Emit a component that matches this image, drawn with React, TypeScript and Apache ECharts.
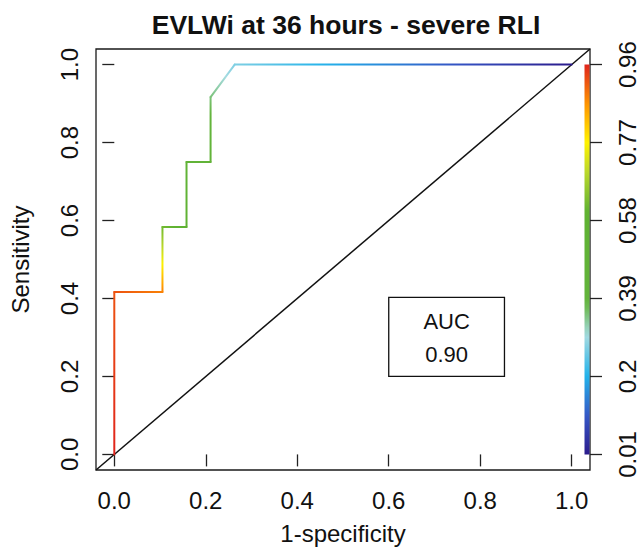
import React, { useEffect, useRef } from 'react';
import * as echarts from 'echarts';

// ---- data ----
const fpr = [0, 0, 0.1053, 0.1053, 0.1579, 0.1579, 0.2105, 0.2105, 0.2632, 1];
const tpr = [0, 0.4167, 0.4167, 0.5833, 0.5833, 0.75, 0.75, 0.9167, 1, 1];
const cutoff = [0.96, 0.92, 0.88, 0.62, 0.58, 0.5, 0.46, 0.35, 0.27, 0.01];
const xTicks = [0, 0.2, 0.4, 0.6, 0.8, 1.0];
const yTicks = [0, 0.2, 0.4, 0.6, 0.8, 1.0];
const cutoffTickLabels = ['0.01', '0.2', '0.39', '0.58', '0.77', '0.96'];
const aucLabel = 'AUC';
const aucValue = '0.90';
const chartTitle = 'EVLWi at 36 hours - severe RLI';
const xName = '1-specificity';
const yName = 'Sensitivity';

// ---- layout / style ----
const AX_MIN = -0.04;
const AX_MAX = 1.04;
const CUT_MIN = 0.01;
const CUT_MAX = 0.96;
const FONT = '"Liberation Sans", Arial, Helvetica, sans-serif';
const AUC_BOX = { x0: 0.6, y0: 0.403, x1: 0.853, y1: 0.2 };

const PALETTE: [number, string][] = [
  [0.01, '#2b1b8c'],
  [0.1, '#3554c4'],
  [0.2, '#22b2ea'],
  [0.3, '#a6dbe0'],
  [0.38, '#63b43c'],
  [0.6, '#5fb232'],
  [0.7, '#bcd82a'],
  [0.77, '#fff200'],
  [0.86, '#ff9800'],
  [0.96, '#e0241c'],
];

function hexToRgb(h: string) {
  const n = parseInt(h.slice(1), 16);
  return [(n >> 16) & 255, (n >> 8) & 255, n & 255];
}
function colorAt(c: number) {
  if (c <= PALETTE[0][0]) return PALETTE[0][1];
  if (c >= PALETTE[PALETTE.length - 1][0]) return PALETTE[PALETTE.length - 1][1];
  for (let i = 0; i < PALETTE.length - 1; i++) {
    const [a, ca] = PALETTE[i];
    const [b, cb] = PALETTE[i + 1];
    if (c >= a && c <= b) {
      const t = (c - a) / (b - a);
      const A = hexToRgb(ca);
      const B = hexToRgb(cb);
      const r = A.map((v, k) => Math.round(v + (B[k] - v) * t));
      return `rgb(${r[0]},${r[1]},${r[2]})`;
    }
  }
  return '#000';
}
function gradientStops(c1: number, c2: number, n = 16) {
  const stops = [];
  for (let i = 0; i <= n; i++) {
    const t = i / n;
    stops.push({ offset: t, color: colorAt(c1 + (c2 - c1) * t) });
  }
  return stops;
}

const segments = fpr.slice(0, -1).map((_, i) => [fpr[i], tpr[i], fpr[i + 1], tpr[i + 1], cutoff[i], cutoff[i + 1]]);

export default function App() {
  const ref = useRef<HTMLDivElement>(null);
  useEffect(() => {
    document.body.style.margin = '0';
    const chart = echarts.init(ref.current!, null, { renderer: 'svg' });
    const labelStyle = { fontSize: 24, color: '#111', fontFamily: FONT };
    const option: any = {
      animation: false,
      backgroundColor: '#fff',
      title: {
        text: chartTitle,
        left: 341,
        textAlign: 'center',
        top: 6,
        textStyle: { fontSize: 26.5, fontWeight: 'bold', color: '#111', fontFamily: FONT },
      },
      grid: {
        left: 95, right: 45, top: 49, bottom: 85,
        show: true, borderColor: '#1a1a1a', borderWidth: 1.3, backgroundColor: '#fff',
      },
      xAxis: {
        type: 'value', min: AX_MIN, max: AX_MAX,
        axisLine: { show: false }, splitLine: { show: false },
        axisTick: { show: true, length: 12, customValues: xTicks, lineStyle: { color: '#222', width: 1.3 } },
        axisLabel: { ...labelStyle, customValues: xTicks, margin: 18, formatter: (v: number) => v.toFixed(1) },
        name: xName, nameLocation: 'middle', nameGap: 51,
        nameTextStyle: { ...labelStyle },
      },
      yAxis: [
        {
          type: 'value', min: AX_MIN, max: AX_MAX,
          axisLine: { show: false }, splitLine: { show: false },
          axisTick: { show: true, length: 12, customValues: yTicks, lineStyle: { color: '#222', width: 1.3 } },
          axisLabel: { ...labelStyle, customValues: yTicks, rotate: 90, margin: 15, formatter: (v: number) => v.toFixed(1) },
          name: yName, nameLocation: 'middle', nameGap: 64,
          nameTextStyle: { ...labelStyle },
        },
        {
          type: 'value', min: AX_MIN, max: AX_MAX, position: 'right',
          axisLine: { show: false }, splitLine: { show: false },
          axisTick: { show: true, length: 12, customValues: yTicks, lineStyle: { color: '#222', width: 1.3 } },
          axisLabel: {
            ...labelStyle, customValues: yTicks, rotate: 90, margin: 25,
            formatter: (v: number) => {
              const i = yTicks.findIndex((t) => Math.abs(t - v) < 1e-6);
              return i >= 0 ? cutoffTickLabels[i] : '';
            },
          },
        },
      ],
      series: [
        {
          type: 'line',
          data: [[AX_MIN, AX_MIN], [AX_MAX, AX_MAX]],
          showSymbol: false, symbol: 'none',
          lineStyle: { color: '#111', width: 1.5 },
          silent: true, z: 2,
        },
        {
          type: 'custom',
          data: segments,
          encode: { x: [0, 2], y: [1, 3] },
          z: 3,
          renderItem: (params: any, api: any) => {
            const p1 = api.coord([api.value(0), api.value(1)]);
            const p2 = api.coord([api.value(2), api.value(3)]);
            const c1 = api.value(4);
            const c2 = api.value(5);
            return {
              type: 'line',
              shape: { x1: p1[0], y1: p1[1], x2: p2[0], y2: p2[1] },
              style: {
                stroke: new echarts.graphic.LinearGradient(p1[0], p1[1], p2[0] + 0.01, p2[1] + 0.01, gradientStops(c1, c2), true),
                lineWidth: 2,
                lineCap: 'round',
              },
            };
          },
        },
        {
          type: 'custom',
          data: [[AX_MAX, 0, 1]],
          encode: { x: 0, y: [1, 2] },
          z: 4,
          renderItem: (params: any, api: any) => {
            const top = api.coord([api.value(0), api.value(2)]);
            const bot = api.coord([api.value(0), api.value(1)]);
            const stops = [];
            const n = 40;
            for (let i = 0; i <= n; i++) {
              const t = i / n;
              stops.push({ offset: t, color: colorAt(CUT_MAX - (CUT_MAX - CUT_MIN) * t) });
            }
            return {
              type: 'rect',
              shape: { x: top[0] - 5.5, y: top[1], width: 5, height: bot[1] - top[1] },
              style: { fill: new echarts.graphic.LinearGradient(0, 0, 0, 1, stops) },
            };
          },
        },
        {
          type: 'custom',
          data: [[AUC_BOX.x0, AUC_BOX.y0, AUC_BOX.x1, AUC_BOX.y1]],
          encode: { x: [0, 2], y: [1, 3] },
          z: 5,
          renderItem: (params: any, api: any) => {
            const a = api.coord([api.value(0), api.value(1)]);
            const b = api.coord([api.value(2), api.value(3)]);
            const cx = (a[0] + b[0]) / 2;
            const h = b[1] - a[1];
            return {
              type: 'group',
              children: [
                {
                  type: 'rect',
                  shape: { x: a[0], y: a[1], width: b[0] - a[0], height: h },
                  style: { fill: '#fff', stroke: '#111', lineWidth: 1.3 },
                },
                {
                  type: 'text',
                  style: { text: aucLabel, x: cx, y: a[1] + h * 0.3, align: 'center', verticalAlign: 'middle', fontSize: 22, fontFamily: FONT, fill: '#111' },
                },
                {
                  type: 'text',
                  style: { text: aucValue, x: cx, y: a[1] + h * 0.72, align: 'center', verticalAlign: 'middle', fontSize: 22, fontFamily: FONT, fill: '#111' },
                },
              ],
            };
          },
        },
      ],
    };
    chart.setOption(option);
    return () => chart.dispose();
  }, []);
  return <div ref={ref} style={{ width: 639, height: 555 }} />;
}
